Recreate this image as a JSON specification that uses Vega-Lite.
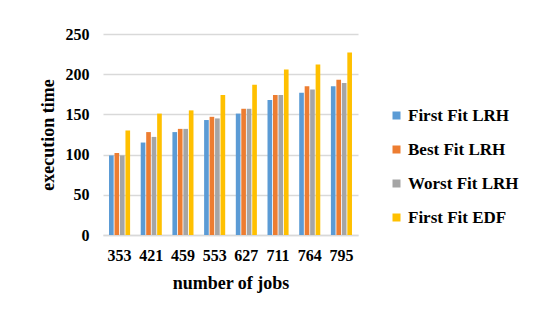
{
  "$schema": "https://vega.github.io/schema/vega-lite/v6.json",
  "autosize": {"type": "none"},
  "width": 255,
  "height": 201,
  "padding": {"left": 103, "top": 34, "right": 184, "bottom": 85},
  "background": "white",
  "data": {
    "values": [
      {"jobs": "353", "series": "First Fit LRH", "time": 99},
      {"jobs": "353", "series": "Best Fit LRH", "time": 102},
      {"jobs": "353", "series": "Worst Fit LRH", "time": 99},
      {"jobs": "353", "series": "First Fit EDF", "time": 130},
      {"jobs": "421", "series": "First Fit LRH", "time": 115},
      {"jobs": "421", "series": "Best Fit LRH", "time": 128},
      {"jobs": "421", "series": "Worst Fit LRH", "time": 122},
      {"jobs": "421", "series": "First Fit EDF", "time": 151},
      {"jobs": "459", "series": "First Fit LRH", "time": 128},
      {"jobs": "459", "series": "Best Fit LRH", "time": 132},
      {"jobs": "459", "series": "Worst Fit LRH", "time": 132},
      {"jobs": "459", "series": "First Fit EDF", "time": 155},
      {"jobs": "553", "series": "First Fit LRH", "time": 143},
      {"jobs": "553", "series": "Best Fit LRH", "time": 147},
      {"jobs": "553", "series": "Worst Fit LRH", "time": 145},
      {"jobs": "553", "series": "First Fit EDF", "time": 174},
      {"jobs": "627", "series": "First Fit LRH", "time": 151},
      {"jobs": "627", "series": "Best Fit LRH", "time": 157},
      {"jobs": "627", "series": "Worst Fit LRH", "time": 157},
      {"jobs": "627", "series": "First Fit EDF", "time": 187},
      {"jobs": "711", "series": "First Fit LRH", "time": 168},
      {"jobs": "711", "series": "Best Fit LRH", "time": 174},
      {"jobs": "711", "series": "Worst Fit LRH", "time": 174},
      {"jobs": "711", "series": "First Fit EDF", "time": 206},
      {"jobs": "764", "series": "First Fit LRH", "time": 177},
      {"jobs": "764", "series": "Best Fit LRH", "time": 185},
      {"jobs": "764", "series": "Worst Fit LRH", "time": 181},
      {"jobs": "764", "series": "First Fit EDF", "time": 212},
      {"jobs": "795", "series": "First Fit LRH", "time": 185},
      {"jobs": "795", "series": "Best Fit LRH", "time": 193},
      {"jobs": "795", "series": "Worst Fit LRH", "time": 189},
      {"jobs": "795", "series": "First Fit EDF", "time": 227}
    ]
  },
  "mark": {"type": "bar"},
  "encoding": {
    "x": {
      "field": "jobs",
      "type": "nominal",
      "sort": null,
      "scale": {"paddingInner": 0.335, "paddingOuter": 0.19},
      "axis": {
        "title": "number of jobs",
        "labelAngle": 0,
        "labelFontWeight": "bold",
        "labelFontSize": 16,
        "labelColor": "#000000",
        "labelPadding": 12,
        "ticks": false,
        "domain": true,
        "domainColor": "#d9d9d9",
        "domainWidth": 1.5,
        "titleFontWeight": "bold",
        "titleFontSize": 18,
        "titleColor": "#000000",
        "titlePadding": 11
      }
    },
    "xOffset": {
      "field": "series",
      "type": "nominal",
      "sort": ["First Fit LRH", "Best Fit LRH", "Worst Fit LRH", "First Fit EDF"],
      "scale": {"paddingInner": 0.15}
    },
    "y": {
      "field": "time",
      "type": "quantitative",
      "scale": {"domain": [0, 250]},
      "axis": {
        "title": "execution time",
        "values": [0, 50, 100, 150, 200, 250],
        "labelFontWeight": "bold",
        "labelFontSize": 16,
        "labelColor": "#000000",
        "labelPadding": 14,
        "ticks": false,
        "domain": false,
        "gridColor": "#d9d9d9",
        "gridWidth": 1.5,
        "titleFontWeight": "bold",
        "titleFontSize": 18,
        "titleColor": "#000000",
        "titlePadding": 8
      }
    },
    "color": {
      "field": "series",
      "type": "nominal",
      "sort": ["First Fit LRH", "Best Fit LRH", "Worst Fit LRH", "First Fit EDF"],
      "scale": {
        "domain": ["First Fit LRH", "Best Fit LRH", "Worst Fit LRH", "First Fit EDF"],
        "range": ["#5B9BD5", "#ED7D31", "#A5A5A5", "#FFC000"]
      },
      "legend": {
        "title": null,
        "orient": "none",
        "legendX": 285,
        "legendY": 73,
        "padding": 0,
        "symbolType": "square",
        "symbolSize": 64,
        "symbolStrokeWidth": 0,
        "symbolOpacity": 1,
        "labelFontWeight": "bold",
        "labelFontSize": 17,
        "labelColor": "#000000",
        "labelOffset": 3,
        "rowPadding": 16,
        "labelLimit": 200
      }
    }
  },
  "config": {
    "font": "Liberation Serif",
    "axis": {"labelFont": "Liberation Serif", "titleFont": "Liberation Serif"},
    "legend": {"labelFont": "Liberation Serif"},
    "view": {"stroke": null}
  }
}
